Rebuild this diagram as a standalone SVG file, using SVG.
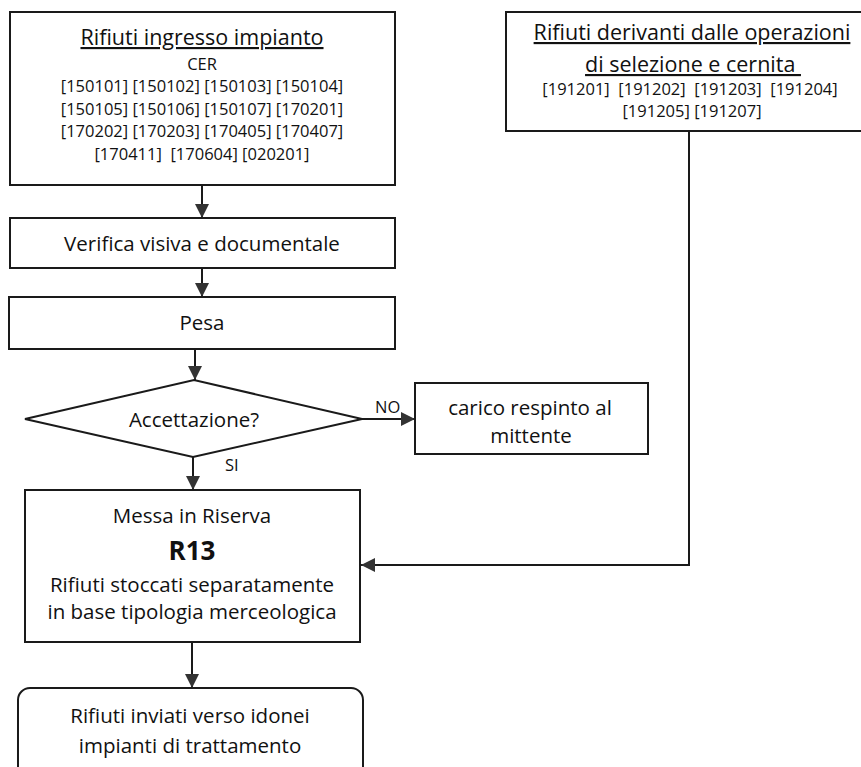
<svg xmlns="http://www.w3.org/2000/svg" width="861" height="767" viewBox="0 0 861 767">
<style>
.box{fill:#fff;stroke:#1a1a1a;stroke-width:2}
.t{font-family:"Open Sans","Liberation Sans",sans-serif;font-size:20.5px;fill:#111;text-anchor:middle}
.c{font-family:"Open Sans","Liberation Sans",sans-serif;font-size:16.5px;fill:#111;text-anchor:middle}
.u{text-decoration:underline;font-size:21.5px}
.b{font-weight:bold;font-size:26px}
.lbl{font-family:"Open Sans","Liberation Sans",sans-serif;font-size:16.5px;fill:#111}
.con{fill:none;stroke:#1a1a1a;stroke-width:2}
</style>
<defs>
<marker id="ah" markerUnits="userSpaceOnUse" markerWidth="14" markerHeight="14" refX="14" refY="7" orient="auto">
<path d="M0,0 L14,7 L0,14 z" fill="#333"/>
</marker>
</defs>
<rect width="861" height="767" fill="#fff"/>
<g id="connectors">
<line class="con" x1="202" y1="185" x2="202" y2="218" marker-end="url(#ah)"/>
<line class="con" x1="202" y1="268" x2="202" y2="297" marker-end="url(#ah)"/>
<line class="con" x1="195" y1="349" x2="195" y2="380" marker-end="url(#ah)"/>
<line class="con" x1="362" y1="419" x2="415" y2="419" marker-end="url(#ah)"/>
<line class="con" x1="193" y1="457" x2="193" y2="490" marker-end="url(#ah)"/>
<line class="con" x1="192" y1="642" x2="192" y2="688" marker-end="url(#ah)"/>
<polyline class="con" points="689,131 689,565 361,565" marker-end="url(#ah)"/>
<text class="lbl" x="375" y="413">NO</text>
<text class="lbl" x="225" y="471">SI</text>
</g>
<g id="n-ingresso">
<rect class="box" x="10" y="12" width="385" height="173"/>
<text class="t u" x="202" y="45">Rifiuti ingresso impianto</text>
<text class="c" x="202" y="70">CER</text>
<text class="c" x="202" y="92">[150101] [150102] [150103] [150104]</text>
<text class="c" x="202" y="114.5">[150105] [150106] [150107] [170201]</text>
<text class="c" x="202" y="137">[170202] [170203] [170405] [170407]</text>
<text class="c" x="202" y="160" xml:space="preserve">[170411]  [170604] [020201]</text>
</g>
<g id="n-derivanti">
<rect class="box" x="506" y="12" width="372" height="119"/>
<text class="t u" x="692" y="40">Rifiuti derivanti dalle operazioni</text>
<text class="t u" x="693" y="72" xml:space="preserve">di selezione e cernita </text>
<text class="c" x="690" y="95" xml:space="preserve">[191201]  [191202]  [191203]  [191204]</text>
<text class="c" x="692" y="117">[191205] [191207]</text>
</g>
<g id="n-verifica">
<rect class="box" x="10" y="218" width="385" height="50"/>
<text class="t" x="202" y="251">Verifica visiva e documentale</text>
</g>
<g id="n-pesa">
<rect class="box" x="9" y="297" width="386" height="52"/>
<text class="t" x="202" y="330">Pesa</text>
</g>
<g id="n-accettazione">
<polygon class="box" points="25,419 194,380 362,419 193,457"/>
<text class="t" x="194" y="427">Accettazione?</text>
</g>
<g id="n-respinto">
<rect class="box" x="415" y="383" width="233" height="71"/>
<text class="t" x="530" y="415">carico respinto al</text>
<text class="t" x="531" y="443">mittente</text>
</g>
<g id="n-riserva">
<rect class="box" x="25" y="490" width="335" height="152"/>
<text class="t" x="192" y="523">Messa in Riserva</text>
<text class="t b" x="192" y="560">R13</text>
<text class="t" x="192" y="592">Rifiuti stoccati separatamente</text>
<text class="t" x="192" y="619">in base tipologia merceologica</text>
</g>
<g id="n-inviati">
<rect class="box" x="18" y="688" width="345" height="100" rx="12" ry="12"/>
<text class="t" x="190" y="723">Rifiuti inviati verso idonei</text>
<text class="t" x="190" y="753">impianti di trattamento</text>
</g>
</svg>
